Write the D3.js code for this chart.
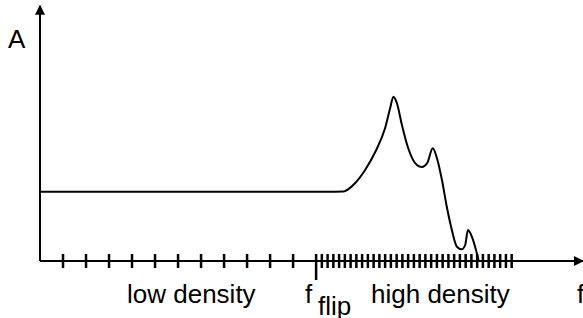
<!DOCTYPE html>
<html>
<head>
<meta charset="utf-8">
<script src="https://cdn.jsdelivr.net/npm/d3@7"></script>
<style>
  body { margin: 0; background: #fff; }
  svg { display: block; }
  text { font-family: "Liberation Sans", Arial, sans-serif; fill: #000; }
</style>
</head>
<body>
<script>
// spectrum amplitude vs frequency (axis units, low-density tick spacing = 1)
var freq = [0, 12.83, 13.17, 13.26, 13.70, 14.13, 14.57, 15.0, 15.22, 15.36, 15.51, 15.73, 16.0,
    16.38, 16.60, 16.83, 17.07, 17.25, 17.47, 17.68, 17.90, 18.12, 18.33, 18.48, 18.60,
    18.77, 18.91, 19.06];
var amp = [0.433, 0.433, 0.434, 0.4375, 0.4875, 0.569, 0.681, 0.831, 0.956, 1.027, 0.9875, 0.85, 0.706,
    0.60, 0.5875, 0.6125, 0.704, 0.644, 0.506, 0.339, 0.194, 0.089, 0.073, 0.10, 0.194,
    0.152, 0.089, 0.006];

var fFlip = 12;
var lowTicks = d3.range(1, 12);                 // low density sampling
var highTicks = d3.range(12.25, 20.51, 0.25);   // high density sampling

var w = 583;
var h = 318;

(function()
{
    var x = d3.scaleLinear().domain([0, 23.6]).range([40, 583]);
    var y = d3.scaleLinear().domain([0, 1.6]).range([261, 5]);

    var svg = d3.select("body")
        .append("svg")
        .attr("width", w)
        .attr("height", h);

    var defs = svg.append("defs");
    defs.append("marker")
        .attr("id", "arrow")
        .attr("viewBox", "0 0 10 10")
        .attr("refX", 9)
        .attr("refY", 5)
        .attr("markerUnits", "userSpaceOnUse")
        .attr("markerWidth", 10)
        .attr("markerHeight", 11)
        .attr("orient", "auto")
        .append("path")
        .attr("d", "M0,0L10,5L0,10Z")
        .attr("fill", "#000");

    // axes
    svg.append("line")
        .attr("x1", x(0)).attr("y1", y(0))
        .attr("x2", x(0)).attr("y2", y(1.595))
        .attr("stroke", "#000")
        .attr("stroke-width", 2)
        .attr("marker-end", "url(#arrow)");
    svg.append("line")
        .attr("x1", x(0)).attr("y1", y(0))
        .attr("x2", x(23.6)).attr("y2", y(0))
        .attr("stroke", "#000")
        .attr("stroke-width", 2)
        .attr("marker-end", "url(#arrow)");

    // sampling ticks
    var ticks = lowTicks.concat(highTicks);
    svg.selectAll("line.tick")
        .data(ticks)
        .enter()
        .append("line")
        .attr("class", "tick")
        .attr("x1", function(d) { return x(d); })
        .attr("x2", function(d) { return x(d); })
        .attr("y1", y(0) - 7)
        .attr("y2", y(0) + 7)
        .attr("stroke", "#000")
        .attr("stroke-width", 2.5);
    svg.append("line")
        .attr("x1", x(fFlip)).attr("x2", x(fFlip))
        .attr("y1", y(0) - 7)
        .attr("y2", y(0) + 19)
        .attr("stroke", "#000")
        .attr("stroke-width", 2.5);

    // spectrum
    var pts = freq.map(function(f, i) { return [f, amp[i]]; });
    var line = d3.line()
        .x(function(d) { return x(d[0]); })
        .y(function(d) { return y(d[1]); })
        .curve(d3.curveMonotoneX);
    svg.append("path")
        .attr("d", line(pts))
        .attr("fill", "none")
        .attr("stroke", "#000")
        .attr("stroke-width", 2);

    // labels
    var fs = "26px";
    svg.append("text").attr("x", 8).attr("y", 48).attr("font-size", fs).text("A");
    svg.append("text").attr("x", 127).attr("y", 303).attr("font-size", fs).text("low density");
    svg.append("text").attr("x", 371).attr("y", 303).attr("font-size", fs).text("high density");
    svg.append("text").attr("x", 305).attr("y", 303).attr("font-size", fs).text("f");
    svg.append("text").attr("x", 318).attr("y", 315).attr("font-size", fs).text("flip");
    svg.append("text").attr("x", 577).attr("y", 303).attr("font-size", fs).text("f");
})();
</script>
</body>
</html>
